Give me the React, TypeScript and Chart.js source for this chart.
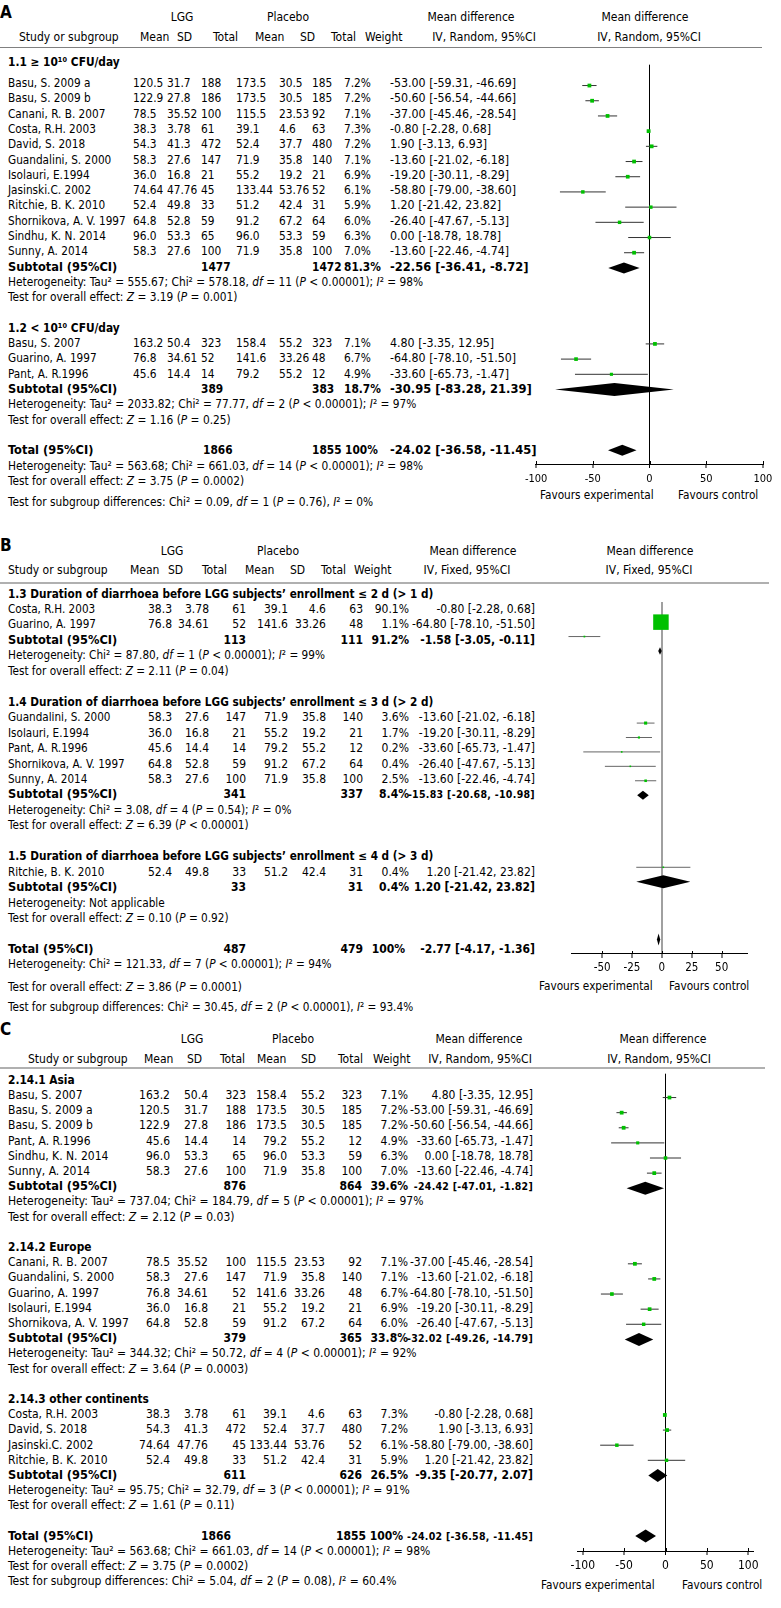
import React, { useEffect, useRef } from "react";
import { Chart, registerables } from "chart.js";

Chart.register(...registerables);

const FONT = '"DejaVu Sans Condensed", "DejaVu Sans", sans-serif';
const GREEN = "#00c000";

// ---------------- study level data ----------------
const studyNames = [
  "Basu, S. 2009 a", "Basu, S. 2009 b", "Canani, R. B. 2007", "Costa, R.H. 2003", "David, S. 2018",
  "Guandalini, S. 2000", "Isolauri, E.1994", "Jasinski.C. 2002", "Ritchie, B. K. 2010", "Shornikova, A. V. 1997",
  "Sindhu, K. N. 2014", "Sunny, A. 2014", "Basu, S. 2007", "Guarino, A. 1997", "Pant, A. R.1996",
];
const lggMean = ["120.5", "122.9", "78.5", "38.3", "54.3", "58.3", "36.0", "74.64", "52.4", "64.8", "96.0", "58.3", "163.2", "76.8", "45.6"];
const lggSD = ["31.7", "27.8", "35.52", "3.78", "41.3", "27.6", "16.8", "47.76", "49.8", "52.8", "53.3", "27.6", "50.4", "34.61", "14.4"];
const lggTotal = ["188", "186", "100", "61", "472", "147", "21", "45", "33", "59", "65", "100", "323", "52", "14"];
const placeboMean = ["173.5", "173.5", "115.5", "39.1", "52.4", "71.9", "55.2", "133.44", "51.2", "91.2", "96.0", "71.9", "158.4", "141.6", "79.2"];
const placeboSD = ["30.5", "30.5", "23.53", "4.6", "37.7", "35.8", "19.2", "53.76", "42.4", "67.2", "53.3", "35.8", "55.2", "33.26", "55.2"];
const placeboTotal = ["185", "185", "92", "63", "480", "140", "21", "52", "31", "64", "59", "100", "323", "48", "12"];
const meanDiff = [-53.0, -50.6, -37.0, -0.8, 1.9, -13.6, -19.2, -58.8, 1.2, -26.4, 0.0, -13.6, 4.8, -64.8, -33.6];
const ciLow = [-59.31, -56.54, -45.46, -2.28, -3.13, -21.02, -30.11, -79.0, -21.42, -47.67, -18.78, -22.46, -3.35, -78.1, -65.73];
const ciHigh = [-46.69, -44.66, -28.54, 0.68, 6.93, -6.18, -8.29, -38.6, 23.82, -5.13, 18.78, -4.74, 12.95, -51.5, -1.47];
const weightRandom = [7.2, 7.2, 7.1, 7.3, 7.2, 7.1, 6.9, 6.1, 5.9, 6.0, 6.3, 7.0, 7.1, 6.7, 4.9];

// ---------------- panel A ----------------
const aTitles = ["1.1 ≥ 10¹⁰ CFU/day", "1.2 < 10¹⁰ CFU/day"];
const aStudies = [[0, 1, 2, 3, 4, 5, 6, 7, 8, 9, 10, 11], [12, 13, 14]];
const aSubLgg = ["1477", "389"];
const aSubPlacebo = ["1472", "383"];
const aSubWeight = ["81.3%", "18.7%"];
const aSubMD = [-22.56, -30.95];
const aSubLow = [-36.41, -83.28];
const aSubHigh = [-8.72, 21.39];
const aHet = [
  "Heterogeneity: Tau² = 555.67; Chi² = 578.18, df = 11 (P < 0.00001); I² = 98%",
  "Heterogeneity: Tau² = 2033.82; Chi² = 77.77, df = 2 (P < 0.00001); I² = 97%",
];
const aTest = ["Test for overall effect: Z = 3.19 (P = 0.001)", "Test for overall effect: Z = 1.16 (P = 0.25)"];
const aTotal = ["1866", "1855", "100%"];
const aTotalCI = [-24.02, -36.58, -11.45];
const aTotalHet = "Heterogeneity: Tau² = 563.68; Chi² = 661.03, df = 14 (P < 0.00001); I² = 98%";
const aTotalTest = "Test for overall effect: Z = 3.75 (P = 0.0002)";
const aSubgroupTest = "Test for subgroup differences: Chi² = 0.09, df = 1 (P = 0.76), I² = 0%";
const aTicks = [-100, -50, 0, 50, 100];

// ---------------- panel B ----------------
const bTitles = [
  "1.3 Duration of diarrhoea before LGG subjects’ enrollment ≤ 2 d (> 1 d)",
  "1.4 Duration of diarrhoea before LGG subjects’ enrollment ≤ 3 d (> 2 d)",
  "1.5 Duration of diarrhoea before LGG subjects’ enrollment ≤ 4 d (> 3 d)",
];
const bStudies = [[3, 13], [5, 6, 14, 9, 11], [8]];
const bWeights = [[90.1, 1.1], [3.6, 1.7, 0.2, 0.4, 2.5], [0.4]];
const bSubLgg = ["113", "341", "33"];
const bSubPlacebo = ["111", "337", "31"];
const bSubWeight = ["91.2%", "8.4%", "0.4%"];
const bSubMD = [-1.58, -15.83, 1.2];
const bSubLow = [-3.05, -20.68, -21.42];
const bSubHigh = [-0.11, -10.98, 23.82];
const bHet = [
  "Heterogeneity: Chi² = 87.80, df = 1 (P < 0.00001); I² = 99%",
  "Heterogeneity: Chi² = 3.08, df = 4 (P = 0.54); I² = 0%",
  "Heterogeneity: Not applicable",
];
const bTest = [
  "Test for overall effect: Z = 2.11 (P = 0.04)",
  "Test for overall effect: Z = 6.39 (P < 0.00001)",
  "Test for overall effect: Z = 0.10 (P = 0.92)",
];
const bTotal = ["487", "479", "100%"];
const bTotalCI = [-2.77, -4.17, -1.36];
const bTotalHet = "Heterogeneity: Chi² = 121.33, df = 7 (P < 0.00001); I² = 94%";
const bTotalTest = "Test for overall effect: Z = 3.86 (P = 0.0001)";
const bSubgroupTest = "Test for subgroup differences: Chi² = 30.45, df = 2 (P < 0.00001), I² = 93.4%";
const bTicks = [-50, -25, 0, 25, 50];

// ---------------- panel C ----------------
const cTitles = ["2.14.1 Asia", "2.14.2 Europe", "2.14.3 other continents"];
const cStudies = [[12, 0, 1, 14, 10, 11], [2, 5, 13, 6, 9], [3, 4, 7, 8]];
const cSubLgg = ["876", "379", "611"];
const cSubPlacebo = ["864", "365", "626"];
const cSubWeight = ["39.6%", "33.8%", "26.5%"];
const cSubMD = [-24.42, -32.02, -9.35];
const cSubLow = [-47.01, -49.26, -20.77];
const cSubHigh = [-1.82, -14.79, 2.07];
const cHet = [
  "Heterogeneity: Tau² = 737.04; Chi² = 184.79, df = 5 (P < 0.00001); I² = 97%",
  "Heterogeneity: Tau² = 344.32; Chi² = 50.72, df = 4 (P < 0.00001); I² = 92%",
  "Heterogeneity: Tau² = 95.75; Chi² = 32.79, df = 3 (P < 0.00001); I² = 91%",
];
const cTest = [
  "Test for overall effect: Z = 2.12 (P = 0.03)",
  "Test for overall effect: Z = 3.64 (P = 0.0003)",
  "Test for overall effect: Z = 1.61 (P = 0.11)",
];
const cTotal = ["1866", "1855", "100%"];
const cTotalCI = [-24.02, -36.58, -11.45];
const cTotalHet = "Heterogeneity: Tau² = 563.68; Chi² = 661.03, df = 14 (P < 0.00001); I² = 98%";
const cTotalTest = "Test for overall effect: Z = 3.75 (P = 0.0002)";
const cSubgroupTest = "Test for subgroup differences: Chi² = 5.04, df = 2 (P = 0.08), I² = 60.4%";
const cTicks = [-100, -50, 0, 50, 100];

// ---------------- assemble panels ----------------
function makeGroups(titles, studies, weights, subL, subP, subW, md, lo, hi, het, test) {
  return titles.map((t, i) => ({
    title: t,
    studies: studies[i],
    weights: weights[i],
    sub: [subL[i], subP[i], subW[i]],
    subCI: [md[i], lo[i], hi[i]],
    het: het[i],
    test: test[i],
  }));
}

const panelA = {
  method: "IV, Random, 95%CI",
  groups: makeGroups(aTitles, aStudies, aStudies.map((g) => g.map((s) => weightRandom[s])), aSubLgg, aSubPlacebo, aSubWeight, aSubMD, aSubLow, aSubHigh, aHet, aTest),
  total: aTotal, totalCI: aTotalCI, totalHet: aTotalHet, totalTest: aTotalTest, subgroupTest: aSubgroupTest, ticks: aTicks,
};
const panelB = {
  method: "IV, Fixed, 95%CI",
  groups: makeGroups(bTitles, bStudies, bWeights, bSubLgg, bSubPlacebo, bSubWeight, bSubMD, bSubLow, bSubHigh, bHet, bTest),
  total: bTotal, totalCI: bTotalCI, totalHet: bTotalHet, totalTest: bTotalTest, subgroupTest: bSubgroupTest, ticks: bTicks,
};
const panelC = {
  method: "IV, Random, 95%CI",
  groups: makeGroups(cTitles, cStudies, cStudies.map((g) => g.map((s) => weightRandom[s])), cSubLgg, cSubPlacebo, cSubWeight, cSubMD, cSubLow, cSubHigh, cHet, cTest),
  total: cTotal, totalCI: cTotalCI, totalHet: cTotalHet, totalTest: cTotalTest, subgroupTest: cSubgroupTest, ticks: cTicks,
};

// ---------------- layout (positions & styles) ----------------
const layA = {
  label: "A", labelY: 12,
  hdr1Y: 17, hdr2Y: 37, lineY: 47, lineX2: 762, lineColor: "#808080", lineW: 1,
  lggX: 182, placeboX: 288, mdH1: 471, mdH2: 484, plotH1: 645, plotH2: 649,
  hdrCols: [19, 140, 177, 213, 255, 300, 331, 365],
  cols: [8, 133, 167, 201, 236, 279, 312, 344, 390], align: "left",
  totalCols: [203, 312, 345, 390],
  sz: { name: 11.7, num: 11.8, md: 12.3, label: 12.7, head: 11.8, het: 11.8, hdr: 12, bnum: 11.8, fav: 11.7 },
  y0: 83, dy: 15.3, firstHeadOff: 1.37, totalTestGap: 1, subgroupGap: 1.4,
  subMd: [[12.8, 0], [12.8, 0]], totalMd: [12.8, 0],
  L: 535, R: 764, min: -101, max: 101, top: 62, bottom: 464, py0: 83, pdy: 15.3,
  tickSize: 11, tickPad: 4.5, zeroColor: "#000", zeroW: 1, ciColor: "#333",
  sqSide: 3.8, sqRefW: 7.3, subH: [5.5, 6.5], totalH: 5.5,
  favY: 495, favX1: 540, favX2: 678,
};
const layB = {
  label: "B", labelY: 545,
  hdr1Y: 551, hdr2Y: 570, lineY: 583, lineX2: 769, lineColor: "#b0b0b0", lineW: 2,
  lggX: 172, placeboX: 278, mdH1: 473, mdH2: 467, plotH1: 650, plotH2: 649,
  hdrCols: [8, 130, 168, 202, 245, 290, 321, 354],
  cols: [8, 172, 209, 246, 288, 326, 363, 409, 535], align: "right",
  totalCols: [246, 363, 405, 535],
  sz: { name: 11.6, num: 12, md: 12, label: 12.7, head: 11.7, het: 11.7, hdr: 12, bnum: 12, fav: 11.7 },
  y0: 609, dy: 15.45, firstHeadOff: 1, totalTestGap: 1.45, subgroupGap: 1.3,
  subMd: [[12, 0], [10.5, 0.3], [12, 0]], totalMd: [12, 0],
  L: 571, R: 748, min: -76, max: 72, top: 591, bottom: 954, py0: 611.8, pdy: 14.87,
  tickSize: 11.5, tickPad: 3.5, zeroColor: "#a0a0a0", zeroW: 2, ciColor: "#666",
  sqSide: 15.5, sqRefW: 90.1, subH: [3.7, 4.5, 6.5], totalH: 6,
  favY: 986, favX1: 539, favX2: 669,
};
const layC = {
  label: "C", labelY: 1029,
  hdr1Y: 1039, hdr2Y: 1059, lineY: 1068, lineX2: 765, lineColor: "#b0b0b0", lineW: 2,
  lggX: 192, placeboX: 293, mdH1: 479, mdH2: 480, plotH1: 663, plotH2: 659,
  hdrCols: [28, 144, 187, 220, 257, 301, 338, 373],
  cols: [8, 170, 208, 246, 287, 325, 362, 408, 533], align: "right",
  totalCols: [231, 366, 403, 533],
  sz: { name: 12, num: 12, md: 12, label: 12.7, head: 11.8, het: 12, hdr: 12, bnum: 12, fav: 11.7 },
  y0: 1095, dy: 15.2, firstHeadOff: 1, totalTestGap: 1, subgroupGap: 1,
  subMd: [[10.5, 0.25], [10.5, 0.25], [12, 0]], totalMd: [10.5, 0.25],
  L: 577, R: 754, min: -107, max: 107, top: 1071, bottom: 1551, py0: 1095, pdy: 15.2,
  tickSize: 12, tickPad: 3.8, zeroColor: "#000", zeroW: 1, ciColor: "#333",
  sqSide: 3.8, sqRefW: 7.3, subH: [6.5, 6.5, 6.5], totalH: 6.5,
  favY: 1585, favX1: 541, favX2: 682,
};

const PANELS = [
  { p: panelA, L: layA },
  { p: panelB, L: layB },
  { p: panelC, L: layC },
];

const PAD_L = 30;
const AX_H = 40;

function ciText(md, lo, hi) {
  return `${md.toFixed(2)} [${lo.toFixed(2)}, ${hi.toFixed(2)}]`;
}

function rich(s) {
  const parts = s.split(/(\bdf\b|\bP\b|\bZ\b|I(?=²))/);
  return parts.map((t, i) => (i % 2 === 1 ? <i key={i}>{t}</i> : <React.Fragment key={i}>{t}</React.Fragment>));
}

function layoutRows(p, L) {
  const head = [], study = [], sub = [], het = [], test = [];
  let r = 0;
  p.groups.forEach((g, gi) => {
    head.push(r - (gi === 0 ? L.firstHeadOff : 1));
    study.push(g.studies.map((_, j) => r + j));
    r += g.studies.length;
    sub.push(r);
    het.push(r + 1);
    test.push(r + 2);
    r += 5;
  });
  const total = r - 1;
  const totalHet = total + 1;
  const totalTest = totalHet + L.totalTestGap;
  const subgroup = totalTest + L.subgroupGap;
  return { head, study, sub, het, test, total, totalHet, totalTest, subgroup };
}

function T({ x, y, align = "left", bold = false, size = 12, ls = 0, children }) {
  const h = 16;
  const st: React.CSSProperties = {
    position: "absolute",
    top: y - h / 2,
    height: h,
    lineHeight: h + "px",
    fontSize: size,
    fontWeight: bold ? "bold" : "normal",
    fontFamily: FONT,
    whiteSpace: "nowrap",
    color: "#000",
  };
  if (ls) st.letterSpacing = ls + "px";
  if (align === "left") st.left = x;
  else if (align === "right") st.right = 781 - x;
  else {
    st.left = x - 300;
    st.width = 600;
    st.textAlign = "center";
  }
  return <div style={st}>{children}</div>;
}

function panelTexts(p, L, keyBase) {
  const els = [];
  let k = 0;
  const S = L.sz;
  const add = (x, y, content, opts = {}) => els.push(<T key={keyBase + "-" + k++} x={x} y={y} {...opts}>{content}</T>);
  const ty = (r) => L.y0 + L.dy * r;
  add(0, L.labelY, L.label, { bold: true, size: 17 });
  add(L.lggX, L.hdr1Y, "LGG", { align: "center", size: S.hdr });
  add(L.placeboX, L.hdr1Y, "Placebo", { align: "center", size: S.hdr });
  add(L.mdH1, L.hdr1Y, "Mean difference", { align: "center", size: S.hdr });
  add(L.plotH1, L.hdr1Y, "Mean difference", { align: "center", size: S.hdr });
  ["Study or subgroup", "Mean", "SD", "Total", "Mean", "SD", "Total", "Weight"].forEach((h, i) => add(L.hdrCols[i], L.hdr2Y, h, { size: S.hdr }));
  add(L.mdH2, L.hdr2Y, p.method, { align: "center", size: S.hdr });
  add(L.plotH2, L.hdr2Y, p.method, { align: "center", size: S.hdr });
  els.push(
    <div key={keyBase + "-line"} style={{ position: "absolute", left: 0, top: L.lineY - L.lineW / 2, width: L.lineX2, height: L.lineW, background: L.lineColor }} />
  );
  const rows = layoutRows(p, L);
  p.groups.forEach((g, gi) => {
    add(L.cols[0], ty(rows.head[gi]), g.title, { bold: true, size: S.head });
    g.studies.forEach((s, j) => {
      const y = ty(rows.study[gi][j]);
      const vals = [
        studyNames[s], lggMean[s], lggSD[s], lggTotal[s], placeboMean[s], placeboSD[s], placeboTotal[s],
        g.weights[j].toFixed(1) + "%", ciText(meanDiff[s], ciLow[s], ciHigh[s]),
      ];
      vals.forEach((v, c) =>
        add(L.cols[c], y, v, { align: c === 0 ? "left" : L.align, size: c === 0 ? S.name : c === 8 ? S.md : S.num })
      );
    });
    const ys = ty(rows.sub[gi]);
    add(L.cols[0], ys, "Subtotal (95%CI)", { bold: true, size: S.label });
    add(L.cols[3], ys, g.sub[0], { bold: true, align: L.align, size: S.bnum });
    add(L.cols[6], ys, g.sub[1], { bold: true, align: L.align, size: S.bnum });
    add(L.cols[7], ys, g.sub[2], { bold: true, align: L.align, size: S.bnum });
    add(L.cols[8], ys, ciText(g.subCI[0], g.subCI[1], g.subCI[2]), { bold: true, align: L.align, size: L.subMd[gi][0], ls: L.subMd[gi][1] });
    add(L.cols[0], ty(rows.het[gi]), rich(g.het), { size: S.het });
    add(L.cols[0], ty(rows.test[gi]), rich(g.test), { size: S.het });
  });
  const yt = ty(rows.total);
  add(L.cols[0], yt, "Total (95%CI)", { bold: true, size: S.label });
  add(L.totalCols[0], yt, p.total[0], { bold: true, align: L.align, size: S.bnum });
  add(L.totalCols[1], yt, p.total[1], { bold: true, align: L.align, size: S.bnum });
  add(L.totalCols[2], yt, p.total[2], { bold: true, align: L.align, size: S.bnum });
  add(L.totalCols[3], yt, ciText(p.totalCI[0], p.totalCI[1], p.totalCI[2]), { bold: true, align: L.align, size: L.totalMd[0], ls: L.totalMd[1] });
  add(L.cols[0], ty(rows.totalHet), rich(p.totalHet), { size: S.het });
  add(L.cols[0], ty(rows.totalTest), rich(p.totalTest), { size: S.het });
  add(L.cols[0], ty(rows.subgroup), rich(p.subgroupTest), { size: S.het });
  add(L.favX1, L.favY, "Favours experimental", { size: S.fav });
  add(L.favX2, L.favY, "Favours control", { size: S.fav });
  return els;
}

function makeForestPlugin(diamonds) {
  return {
    id: "forest",
    afterDatasetsDraw(chart) {
      const { ctx, chartArea } = chart;
      const xs = chart.scales.x;
      const ys = chart.scales.y;
      ctx.save();
      ctx.fillStyle = "#000";
      for (const d of diamonds) {
        const yc = ys.getPixelForValue(d.y);
        ctx.beginPath();
        ctx.moveTo(xs.getPixelForValue(d.lo), yc);
        ctx.lineTo(xs.getPixelForValue(d.md), yc - d.h);
        ctx.lineTo(xs.getPixelForValue(d.hi), yc);
        ctx.lineTo(xs.getPixelForValue(d.md), yc + d.h);
        ctx.closePath();
        ctx.fill();
      }
      ctx.strokeStyle = "#000";
      ctx.lineWidth = 1;
      for (const t of xs.ticks) {
        const px = Math.round(xs.getPixelForValue(t.value)) + 0.5;
        ctx.beginPath();
        ctx.moveTo(px, chartArea.bottom - 3);
        ctx.lineTo(px, chartArea.bottom);
        ctx.stroke();
      }
      ctx.restore();
    },
  };
}

function canvasSize(L) {
  const padR = 781 - L.R;
  return { W: Math.round(L.R - L.L + PAD_L + padR), H: Math.round(L.bottom - L.top + AX_H), padR };
}

function forestConfig(p, L) {
  const rows = layoutRows(p, L);
  const squares = [];
  const sizes = [];
  const ciSets = [];
  const diamonds = [];
  p.groups.forEach((g, gi) => {
    g.studies.forEach((s, j) => {
      const r = rows.study[gi][j];
      squares.push({ x: meanDiff[s], y: r });
      const side = Math.max(1.6, L.sqSide * Math.sqrt(g.weights[j] / L.sqRefW));
      sizes.push(side / Math.SQRT2);
      ciSets.push({
        type: "scatter",
        showLine: true,
        data: [{ x: ciLow[s], y: r }, { x: ciHigh[s], y: r }],
        borderColor: L.ciColor,
        borderWidth: 1,
        pointRadius: 0,
        pointHoverRadius: 0,
        clip: false,
      });
    });
    diamonds.push({ md: g.subCI[0], lo: g.subCI[1], hi: g.subCI[2], y: rows.sub[gi], h: L.subH[gi] });
  });
  diamonds.push({ md: p.totalCI[0], lo: p.totalCI[1], hi: p.totalCI[2], y: rows.total, h: L.totalH });
  const { padR } = canvasSize(L);
  return {
    type: "scatter",
    data: {
      datasets: [
        {
          data: squares,
          pointStyle: "rect",
          pointRadius: sizes,
          pointHoverRadius: sizes,
          backgroundColor: GREEN,
          borderWidth: 0,
          clip: false,
        },
        ...ciSets,
      ],
    },
    options: {
      animation: false,
      responsive: false,
      maintainAspectRatio: false,
      devicePixelRatio: 1,
      events: [],
      layout: { padding: { left: PAD_L, right: padR, top: 0, bottom: 0 } },
      plugins: { legend: { display: false }, tooltip: { enabled: false } },
      scales: {
        x: {
          type: "linear",
          position: "bottom",
          min: L.min,
          max: L.max,
          bounds: "data",
          afterBuildTicks: (axis) => {
            axis.ticks = p.ticks.map((v) => ({ value: v }));
          },
          afterFit: (axis) => {
            axis.height = AX_H;
          },
          grid: {
            drawOnChartArea: true,
            drawTicks: true,
            tickLength: 4,
            color: (ctx) => (ctx.tick && ctx.tick.value === 0 ? L.zeroColor : "rgba(0,0,0,0)"),
            lineWidth: (ctx) => (ctx.tick && ctx.tick.value === 0 ? L.zeroW : 0),
            tickColor: "#000",
            tickWidth: 1,
          },
          border: { display: true, color: "#000", width: 1 },
          ticks: {
            autoSkip: false,
            maxRotation: 0,
            padding: L.tickPad,
            color: "#000",
            font: { family: FONT, size: L.tickSize },
            callback: (v) => String(v),
          },
        },
        y: {
          type: "linear",
          display: false,
          reverse: true,
          bounds: "data",
          min: (L.top - L.py0) / L.pdy,
          max: (L.bottom - L.py0) / L.pdy,
        },
      },
    },
    plugins: [makeForestPlugin(diamonds)],
  };
}

export default function App() {
  const r0 = useRef<HTMLCanvasElement>(null);
  const r1 = useRef<HTMLCanvasElement>(null);
  const r2 = useRef<HTMLCanvasElement>(null);
  const refs = [r0, r1, r2];

  useEffect(() => {
    const charts = PANELS.map(({ p, L }, i) => new Chart(refs[i].current, forestConfig(p, L) as any));
    return () => charts.forEach((c) => c.destroy());
  }, []);

  return (
    <div style={{ position: "absolute", left: 0, top: 0, width: 781, height: 1608, background: "#fff", overflow: "hidden", fontFamily: FONT }}>
      {PANELS.map(({ p, L }, i) => panelTexts(p, L, "p" + i))}
      {PANELS.map(({ L }, i) => {
        const { W, H } = canvasSize(L);
        return (
          <canvas
            key={"c" + i}
            ref={refs[i]}
            width={W}
            height={H}
            style={{ position: "absolute", left: L.L - PAD_L, top: L.top, width: W, height: H }}
          />
        );
      })}
    </div>
  );
}
